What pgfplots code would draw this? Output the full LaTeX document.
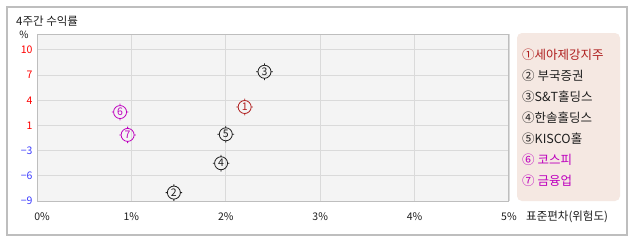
\documentclass[border=0pt]{standalone}
\usepackage{pgfplots}
\pgfplotsset{compat=1.18}
\usepackage{fontspec}
\setmainfont{Noto Sans CJK KR}
\definecolor{dred}{RGB}{175,30,30}
\definecolor{mag}{RGB}{190,0,190}
\definecolor{tred}{RGB}{255,0,0}
\definecolor{tblue}{RGB}{60,60,255}
\definecolor{dk}{RGB}{30,30,30}
\definecolor{legbg}{RGB}{245,232,226}
\definecolor{plotbg}{RGB}{244,244,244}
\definecolor{gridc}{RGB}{218,218,218}
\definecolor{framec}{RGB}{190,190,190}
\pgfdeclareplotmark{cn}{%
  \pgfpathcircle{\pgfpointorigin}{6.5pt}%
  \pgfpathmoveto{\pgfpoint{0pt}{6.5pt}}\pgfpathlineto{\pgfpoint{0pt}{8.3pt}}%
  \pgfpathmoveto{\pgfpoint{0pt}{-6.5pt}}\pgfpathlineto{\pgfpoint{0pt}{-8.3pt}}%
  \pgfpathmoveto{\pgfpoint{6.5pt}{0pt}}\pgfpathlineto{\pgfpoint{8.3pt}{0pt}}%
  \pgfpathmoveto{\pgfpoint{-6.5pt}{0pt}}\pgfpathlineto{\pgfpoint{-8.3pt}{0pt}}%
  \pgfusepathqstroke}
\begin{document}
\begin{tikzpicture}
\path[fill=white] (0pt,0pt) rectangle (638pt,242pt);
\draw[framec, line width=1.2pt] (7pt,7pt) rectangle (627pt,235pt);
\node[anchor=west, font=\fontsize{11.5}{12}\selectfont, text=dk, inner sep=0pt] at (16pt,221pt) {4주간 수익률};
\node[font=\fontsize{10}{11}\selectfont, text=dk, inner sep=0pt] at (24pt,207pt) {\%};
\node[anchor=west, font=\fontsize{11.5}{12}\selectfont, text=dk, inner sep=0pt] at (526pt,25pt) {표준편차(위험도)};
\begin{axis}[
  at={(37pt,41pt)}, anchor=south west,
  scale only axis, width=472pt, height=167pt,
  xmin=0, xmax=5, ymin=-9, ymax=11.9,
  y coord trafo/.code={\pgfmathparse{(#1>=1) ? (3+(#1-1)/3) : ((#1>=-3) ? (2+(#1+3)/4) : ((#1+9)/3))}},
  xtick={0,1,2,3,4,5},
  xticklabels={\hspace*{10pt}0\%,1\%,2\%,3\%,4\%,5\%},
  ytick={-9,-6,-3,1,4,7,10},
  yticklabels={{\textcolor{tblue}{−9}},{\textcolor{tblue}{−6}},{\textcolor{tblue}{−3}},{\textcolor{tred}{1}},{\textcolor{tred}{4}},{\textcolor{tred}{7}},{\textcolor{tred}{10}}},
  /pgf/number format/assume math mode=true,
  tick label style={font=\fontsize{10.5}{11}\selectfont, text=dk},
  xticklabel style={anchor=center, yshift=-16pt},
  yticklabel style={xshift=-1pt},
  major tick length=0pt,
  grid=major, major grid style={gridc, line width=0.9pt},
  axis background/.style={fill=plotbg},
  axis line style={framec, line width=1pt},
  clip=false,
]
\addplot[only marks, mark=cn, dred, line width=0.8pt, nodes near coords={1}, every node near coord/.style={anchor=center, font=\fontsize{10.5}{10.5}\selectfont, text=dred}] coordinates {(2.20,3.2)};
\addplot[only marks, mark=cn, dk, line width=0.8pt, nodes near coords={2}, every node near coord/.style={anchor=center, font=\fontsize{10.5}{10.5}\selectfont, text=dk}] coordinates {(1.45,-8.0)};
\addplot[only marks, mark=cn, dk, line width=0.8pt, nodes near coords={3}, every node near coord/.style={anchor=center, font=\fontsize{10.5}{10.5}\selectfont, text=dk}] coordinates {(2.41,7.4)};
\addplot[only marks, mark=cn, dk, line width=0.8pt, nodes near coords={4}, every node near coord/.style={anchor=center, font=\fontsize{10.5}{10.5}\selectfont, text=dk}] coordinates {(1.95,-4.5)};
\addplot[only marks, mark=cn, dk, line width=0.8pt, nodes near coords={5}, every node near coord/.style={anchor=center, font=\fontsize{10.5}{10.5}\selectfont, text=dk}] coordinates {(2.00,-0.4)};
\addplot[only marks, mark=cn, mag, line width=0.8pt, nodes near coords={6}, every node near coord/.style={anchor=center, font=\fontsize{10.5}{10.5}\selectfont, text=mag}] coordinates {(0.88,2.6)};
\addplot[only marks, mark=cn, mag, line width=0.8pt, nodes near coords={7}, every node near coord/.style={anchor=center, font=\fontsize{10.5}{10.5}\selectfont, text=mag}] coordinates {(0.96,-0.5)};
\end{axis}
\fill[legbg, rounded corners=5pt] (517pt,41pt) rectangle (620pt,209pt);
\begin{scope}[every node/.style={anchor=west, inner sep=0pt, font=\fontsize{12.5}{13}\selectfont}]
\node[text=dred] at (522pt,187pt) {①세아제강지주};
\node[text=dk] at (522pt,166pt) {② 부국증권};
\node[text=dk] at (522pt,145pt) {③S\&T홀딩스};
\node[text=dk] at (522pt,124pt) {④한솔홀딩스};
\node[text=dk] at (522pt,103pt) {⑤KISCO홀};
\node[text=mag] at (522pt,82pt) {⑥ 코스피};
\node[text=mag] at (522pt,61pt) {⑦ 금융업};
\end{scope}
\end{tikzpicture}
\end{document}
